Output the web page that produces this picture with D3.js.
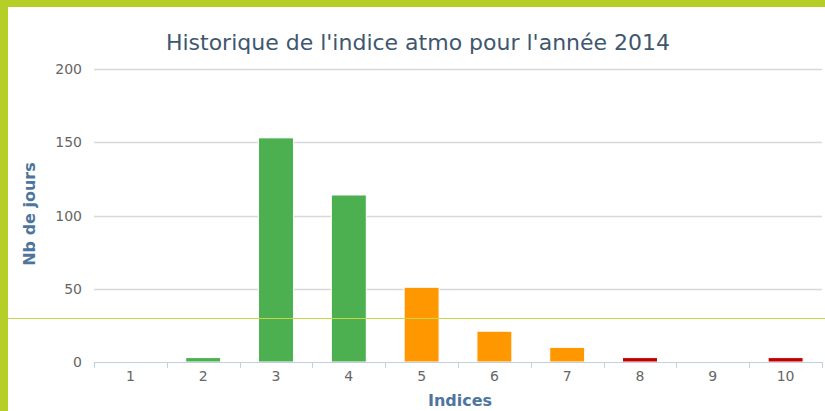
<!DOCTYPE html>
<html>
<head>
<meta charset="utf-8">
<script src="https://cdn.jsdelivr.net/npm/d3@7"></script>
<style>
  body { margin: 0; background: #fff; }
  svg { display: block; font-family: "DejaVu Sans", Verdana, sans-serif; }
</style>
</head>
<body>
<div id="chart"></div>
<script>
// data
const indices = ['1', '2', '3', '4', '5', '6', '7', '8', '9', '10'];
const nbJours = [0, 3, 153, 114, 51, 21, 10, 3, 0, 3];
const barColors = ['#4caf50', '#4caf50', '#4caf50', '#4caf50', '#ff9800', '#ff9800', '#ff9800', '#c00000', '#c00000', '#c00000'];
const yTicks = [0, 50, 100, 150, 200];

const width = 825, height = 411;
const margin = { top: 69, right: 3, bottom: 49, left: 94 };

const svg = d3.select('#chart').append('svg')
  .attr('width', width)
  .attr('height', height);

const x = d3.scaleBand()
  .domain(indices)
  .range([margin.left, width - margin.right])
  .paddingInner(0.52)
  .paddingOuter(0.26);

const y = d3.scaleLinear()
  .domain([0, 200])
  .range([height - margin.bottom, margin.top]);

// grid lines
svg.append('g')
  .selectAll('line')
  .data(yTicks.slice(1))
  .join('line')
  .attr('x1', margin.left)
  .attr('x2', width - margin.right)
  .attr('y1', d => Math.round(y(d)) + 0.5)
  .attr('y2', d => Math.round(y(d)) + 0.5)
  .attr('stroke', '#d8d8d8')
  .attr('stroke-width', 1.5);

// y labels
svg.append('g')
  .selectAll('text')
  .data(yTicks)
  .join('text')
  .attr('x', 82)
  .attr('y', d => y(d) + 5)
  .attr('text-anchor', 'end')
  .attr('fill', '#666')
  .style('font-size', '14px')
  .text(d => d);

// bars
svg.append('g')
  .selectAll('rect')
  .data(nbJours)
  .join('rect')
  .attr('x', (d, i) => x(indices[i]))
  .attr('y', d => y(d))
  .attr('width', x.bandwidth())
  .attr('height', d => y(0) - y(d))
  .attr('fill', (d, i) => barColors[i])
  .attr('stroke', '#fff')
  .attr('stroke-width', d => d > 0 ? 1 : 0);

// x axis
const xAxis = svg.append('g')
  .attr('transform', `translate(0,${y(0)})`);
xAxis.append('line')
  .attr('x1', margin.left)
  .attr('x2', width - margin.right)
  .attr('y1', 0.5)
  .attr('y2', 0.5)
  .attr('stroke', '#c0d0e0');
const step = x.step();
xAxis.selectAll('.tick')
  .data(d3.range(indices.length + 1))
  .join('line')
  .attr('class', 'tick')
  .attr('x1', i => Math.round(margin.left + i * step) + 0.5)
  .attr('x2', i => Math.round(margin.left + i * step) + 0.5)
  .attr('y1', 0)
  .attr('y2', 6)
  .attr('stroke', '#c0d0e0');
xAxis.selectAll('.xlab')
  .data(indices)
  .join('text')
  .attr('class', 'xlab')
  .attr('x', d => x(d) + x.bandwidth() / 2)
  .attr('y', 19)
  .attr('text-anchor', 'middle')
  .attr('fill', '#666')
  .style('font-size', '14px')
  .text(d => d);

// title
svg.append('text')
  .attr('x', 418)
  .attr('y', 50)
  .attr('text-anchor', 'middle')
  .attr('fill', '#3e576f')
  .style('font-size', '22px')
  .text("Historique de l'indice atmo pour l'année 2014");

// axis titles
svg.append('text')
  .attr('x', 460)
  .attr('y', 406)
  .attr('text-anchor', 'middle')
  .attr('fill', '#4d759e')
  .style('font-size', '16px')
  .style('font-weight', 'bold')
  .text('Indices');

svg.append('text')
  .attr('transform', 'translate(35,214) rotate(-90)')
  .attr('text-anchor', 'middle')
  .attr('fill', '#4d759e')
  .style('font-size', '16px')
  .style('font-weight', 'bold')
  .text('Nb de jours');

// frame
svg.append('rect').attr('x', 0).attr('y', 0).attr('width', width).attr('height', 7).attr('fill', '#b5cf28');
svg.append('rect').attr('x', 0).attr('y', 0).attr('width', 8).attr('height', height).attr('fill', '#b5cf28');
svg.append('line')
  .attr('x1', 8).attr('x2', width)
  .attr('y1', 318.5).attr('y2', 318.5)
  .attr('stroke', '#c4d84a')
  .attr('stroke-width', 1);
</script>
</body>
</html>
